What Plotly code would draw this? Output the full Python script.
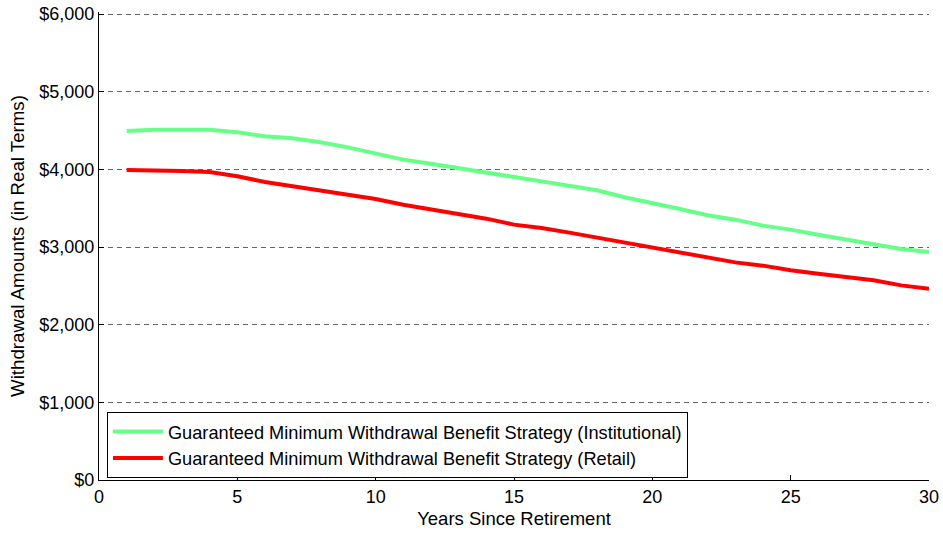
import plotly.graph_objects as go

years = list(range(1, 31))
institutional = [4493, 4511, 4511, 4511, 4477, 4425, 4399, 4348, 4283, 4205,
                 4125, 4073, 4017, 3953, 3901, 3846, 3790, 3730, 3640, 3571,
                 3490, 3408, 3352, 3275, 3224, 3159, 3099, 3034, 2974, 2935]
retail = [3990, 3990, 3978, 3965, 3910, 3837, 3781, 3721, 3665, 3618,
          3545, 3489, 3430, 3365, 3288, 3245, 3185, 3121, 3060, 3000,
          2930, 2863, 2802, 2760, 2700, 2657, 2614, 2571, 2506, 2464]
names = ["Guaranteed Minimum Withdrawal Benefit Strategy (Institutional)",
         "Guaranteed Minimum Withdrawal Benefit Strategy (Retail)"]
colors = ["#66FF88", "#FF0000"]
x_ticks = [0, 5, 10, 15, 20, 25, 30]
y_ticks = [0, 1000, 2000, 3000, 4000, 5000, 6000]
y_tick_labels = ["$0", "$1,000", "$2,000", "$3,000", "$4,000", "$5,000", "$6,000"]

FONT = "Liberation Sans, Arial, sans-serif"

fig = go.Figure()
for ys, nm, c in zip([institutional, retail], names, colors):
    fig.add_trace(go.Scatter(x=years, y=ys, mode="lines", name=nm,
                             line=dict(color=c, width=4)))

fig.update_layout(
    width=943, height=534,
    margin=dict(l=99, r=14, t=12, b=54),
    paper_bgcolor="white", plot_bgcolor="white",
    font=dict(family=FONT, size=18, color="black"),
    showlegend=True,
    legend=dict(x=0.0096, y=0.004, xanchor="left", yanchor="bottom",
                bordercolor="black", borderwidth=1, bgcolor="white",
                font=dict(size=18.2), tracegroupgap=0, itemwidth=50),
)
fig.update_xaxes(range=[0, 30], tickvals=x_ticks,
                 ticks="inside", ticklen=5, tickcolor="black",
                 showline=True, linecolor="black", linewidth=1,
                 showgrid=False, zeroline=False, automargin=False,
                 tickfont=dict(size=18),
                 title=dict(text="Years Since Retirement", standoff=6,
                            font=dict(size=18.5)))
fig.update_yaxes(range=[0, 6026], tickvals=y_ticks, ticktext=y_tick_labels,
                 ticks="inside", ticklen=5, tickcolor="black",
                 showline=True, linecolor="black", linewidth=1,
                 showgrid=True, gridcolor="#666666", griddash="5px,4px", gridwidth=1,
                 zeroline=False, automargin=False,
                 tickfont=dict(size=18),
                 title=dict(text="Withdrawal Amounts (in Real Terms)", standoff=9,
                            font=dict(size=18.7)))

fig.write_html("out.html", config={"displayModeBar": False},
               post_script="document.body.style.margin='0';document.body.style.overflow='hidden';")
